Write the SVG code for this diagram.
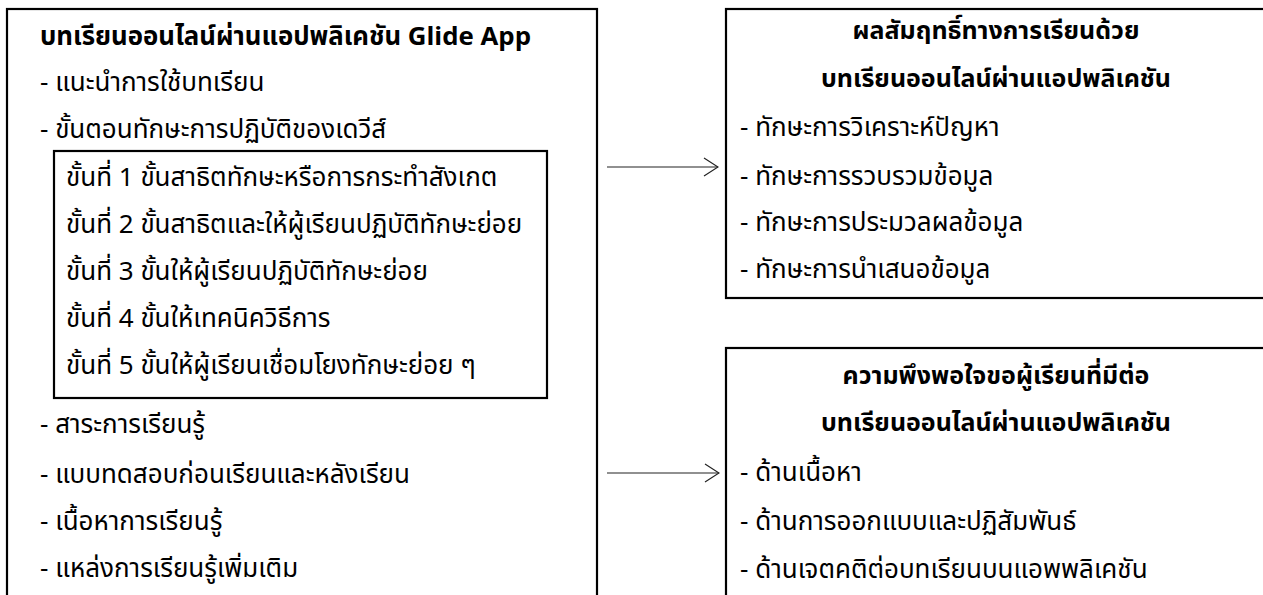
<svg xmlns="http://www.w3.org/2000/svg" width="1263" height="595" viewBox="0 0 1263 595">
<defs>
<style>
text{font-family:"Noto Sans Thai","Leelawadee UI",Tahoma,"DejaVu Sans","Noto Sans",sans-serif;font-size:26px;fill:#000}
.b{font-weight:bold;font-size:25px}
.t{font-size:25.8px}
.c{text-anchor:middle}
.box{fill:#fff;stroke:#000;stroke-width:2.2}
.arr{stroke:#222;stroke-width:1.2;fill:none}
</style>
<marker id="ah" viewBox="0 0 16 20" refX="15" refY="10" markerWidth="16" markerHeight="20" markerUnits="userSpaceOnUse" orient="auto">
<path d="M1,1 L15,10 L1,19" fill="none" stroke="#222" stroke-width="1.2"/>
</marker>
</defs>
<rect width="1263" height="595" fill="#fff"/>
<g id="lesson">
<rect class="box" x="7" y="9" width="590" height="600"/>
<text class="b t" x="40" y="45">บทเรียนออนไลน์ผ่านแอปพลิเคชัน Glide App</text>
<text x="40" y="91">- แนะนำการใช้บทเรียน</text>
<text x="40" y="138">- ขั้นตอนทักษะการปฏิบัติของเดวีส์</text>
<text x="40" y="433">- สาระการเรียนรู้</text>
<text x="40" y="483">- แบบทดสอบก่อนเรียนและหลังเรียน</text>
<text x="40" y="530">- เนื้อหาการเรียนรู้</text>
<text x="40" y="577">- แหล่งการเรียนรู้เพิ่มเติม</text>
</g>
<g id="steps">
<rect class="box" x="54" y="151" width="493" height="247"/>
<text x="66" y="186">ขั้นที่ 1 ขั้นสาธิตทักษะหรือการกระทำสังเกต</text>
<text x="66" y="233">ขั้นที่ 2 ขั้นสาธิตและให้ผู้เรียนปฏิบัติทักษะย่อย</text>
<text x="66" y="280">ขั้นที่ 3 ขั้นให้ผู้เรียนปฏิบัติทักษะย่อย</text>
<text x="66" y="327">ขั้นที่ 4 ขั้นให้เทคนิควิธีการ</text>
<text x="66" y="374">ขั้นที่ 5 ขั้นให้ผู้เรียนเชื่อมโยงทักษะย่อย ๆ</text>
</g>
<g id="achievement">
<rect class="box" x="726" y="9" width="545" height="289"/>
<text class="b c" x="996" y="39">ผลสัมฤทธิ์ทางการเรียนด้วย</text>
<text class="b c" x="996" y="87">บทเรียนออนไลน์ผ่านแอปพลิเคชัน</text>
<text x="740" y="136">- ทักษะการวิเคราะห์ปัญหา</text>
<text x="740" y="185">- ทักษะการรวบรวมข้อมูล</text>
<text x="740" y="231">- ทักษะการประมวลผลข้อมูล</text>
<text x="740" y="278">- ทักษะการนำเสนอข้อมูล</text>
</g>
<g id="satisfaction">
<rect class="box" x="726" y="348" width="545" height="260"/>
<text class="b c" x="996" y="384">ความพึงพอใจขอผู้เรียนที่มีต่อ</text>
<text class="b c" x="996" y="431">บทเรียนออนไลน์ผ่านแอปพลิเคชัน</text>
<text x="740" y="481">- ด้านเนื้อหา</text>
<text x="740" y="530">- ด้านการออกแบบและปฏิสัมพันธ์</text>
<text x="740" y="578">- ด้านเจตคติต่อบทเรียนบนแอพพลิเคชัน</text>
</g>
<g id="connectors">
<line class="arr" x1="607" y1="167" x2="718" y2="167" marker-end="url(#ah)"/>
<line class="arr" x1="607" y1="473" x2="719" y2="473" marker-end="url(#ah)"/>
</g>
</svg>
